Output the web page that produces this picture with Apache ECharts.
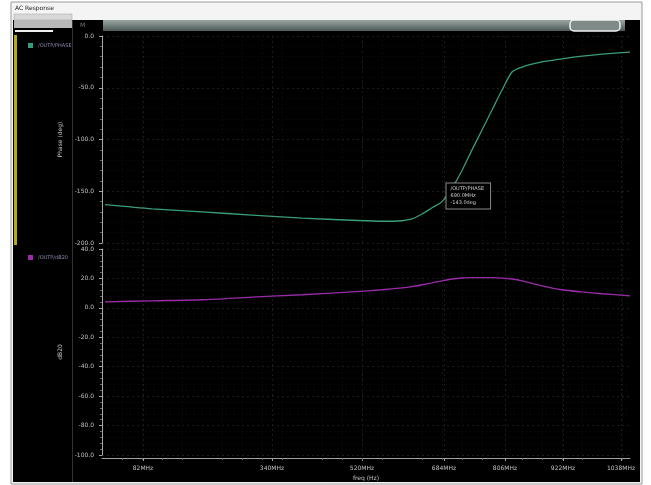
<!DOCTYPE html>
<html>
<head>
<meta charset="utf-8">
<title>AC Response</title>
<script src="https://cdn.jsdelivr.net/npm/echarts@6/dist/echarts.min.js"></script>
<style>
  html, body { margin: 0; padding: 0; background: #ffffff; }
  #chart { width: 651px; height: 485px; }
</style>
</head>
<body>
<div id="chart"></div>
<script>
// Frequency sweep points (MHz)
const freqMHz = [6, 100, 200, 300, 400, 500, 560, 600, 620, 640, 660, 680, 700, 720, 740, 760, 780, 800, 820, 840, 880, 920, 960, 1000, 1056];
// Phase of the output (deg)
const phaseDeg = [-163, -167, -170, -173, -176, -178, -179, -178.5, -176.8, -172, -166, -160, -147, -130, -110, -90.8, -71.5, -52.2, -34.8, -30, -25, -22, -19.5, -17.5, -15.5];
// Magnitude of the output (dB20)
const magDb = [4.1, 4.8, 5.5, 7.3, 8.9, 10.9, 12.3, 13.6, 14.5, 15.7, 17, 18.4, 19.6, 20.3, 20.5, 20.6, 20.5, 20.2, 19.6, 18.4, 15, 12.3, 10.8, 9.6, 8.2];

// Axis ticks
const xTickValues = [82, 340, 520, 684, 806, 922, 1038];
const phaseTicks = { min: -200, max: 0, interval: 50 };
const magTicks = { min: -100, max: 40, interval: 20 };

// Cursor readout on the phase trace
const cursorPoint = { freq: 690, phase: -143 };

const traceNames = ['/OUTP/PHASE', '/OUTP/dB20'];
const traceColors = ['#3a9c7e', '#9a2ca8'];

const chart = echarts.init(document.getElementById('chart'), null, { renderer: 'canvas' });

const labelFont = { color: '#c0c0c0', fontSize: 6, fontFamily: 'DejaVu Sans' };
const gridLine = { show: true, lineStyle: { color: '#1c1c1c', width: 1, type: [2, 3] } };
const minorLine = { show: true, lineStyle: { color: '#111111', width: 1, type: [1, 3] } };

function xAxisFor(gridIndex, showLabels) {
  return {
    type: 'value', gridIndex: gridIndex, min: 0, max: 1056,
    axisLine: { show: showLabels, onZero: false, lineStyle: { color: '#a0a0a0', width: 1 } },
    axisTick: { show: showLabels, customValues: xTickValues, length: 3, lineStyle: { color: '#a0a0a0' } },
    minorTick: { show: showLabels, splitNumber: 5, length: 2, lineStyle: { color: '#6a6a6a' } },
    axisLabel: {
      show: showLabels, customValues: xTickValues, margin: 7,
      formatter: v => v + 'MHz', ...labelFont
    },
    splitLine: gridLine,
    minorSplitLine: minorLine,
    offset: showLabels ? 3 : 0,
    name: showLabels ? 'freq (Hz)' : '',
    nameLocation: 'middle', nameGap: 17,
    nameTextStyle: { ...labelFont }
  };
}

function yAxisFor(gridIndex, ticks, name) {
  return {
    type: 'value', gridIndex: gridIndex,
    min: ticks.min, max: ticks.max, interval: ticks.interval,
    axisLine: { show: true, lineStyle: { color: '#a8a8a8', width: 1 } },
    axisTick: { show: true, length: 3, lineStyle: { color: '#a0a0a0' } },
    minorTick: { show: true, splitNumber: 5, length: 2, lineStyle: { color: '#6a6a6a' } },
    axisLabel: { margin: 8, formatter: v => v.toFixed(1), ...labelFont },
    splitLine: gridLine,
    minorSplitLine: minorLine,
    name: name, nameLocation: 'middle', nameGap: 25, nameRotate: 90,
    nameTextStyle: { ...labelFont }
  };
}

const option = {
  backgroundColor: '#ffffff',
  animation: false,
  graphic: [
    // window frame and title bar
    { type: 'rect', z: -20, shape: { x: 11, y: 2, width: 631, height: 482 }, style: { fill: '#f4f4f4', stroke: '#9a9a9a', lineWidth: 1 } },
    { type: 'text', z: -19, style: { x: 15, y: 5, text: 'AC Response', fill: '#222', fontSize: 6, fontFamily: 'DejaVu Sans' } },
    { type: 'rect', z: -19, shape: { x: 14, y: 14, width: 58, height: 6 }, style: { fill: '#d8d8d8', stroke: '#a0a0a0', lineWidth: 0.5 } },
    // plotting canvas
    { type: 'rect', z: -18, shape: { x: 13, y: 20, width: 627, height: 462 }, style: { fill: '#000000' } },
    { type: 'rect', z: -17, shape: { x: 14, y: 20, width: 58, height: 8 }, style: { fill: '#b8b8b8' } },
    { type: 'rect', z: -17, shape: { x: 15, y: 30, width: 38, height: 2 }, style: { fill: '#f0f0f0' } },
    { type: 'rect', z: -17, shape: { x: 14, y: 35, width: 3, height: 210 }, style: { fill: '#b9a920' } },
    { type: 'line', z: -17, shape: { x1: 72.5, y1: 20, x2: 72.5, y2: 482 }, style: { stroke: '#333333', lineWidth: 1 } },
    { type: 'text', z: -17, style: { x: 80, y: 22, text: 'M', fill: '#777', fontSize: 6, fontFamily: 'DejaVu Sans' } },
    // horizontal scroll bar
    {
      type: 'rect', z: -16, shape: { x: 103, y: 20, width: 522, height: 11 },
      style: {
        fill: new echarts.graphic.LinearGradient(0, 0, 0, 1, [
          { offset: 0, color: '#9aa6a4' }, { offset: 1, color: '#4e5a58' }
        ])
      }
    },
    { type: 'rect', z: -15, shape: { x: 570, y: 20, width: 50, height: 11, r: 4 }, style: { fill: '#7f8b89', stroke: '#f2f2f2', lineWidth: 1.5 } }
  ],
  legend: [
    {
      data: [traceNames[0]], left: 23, top: 38, orient: 'vertical',
      icon: 'rect', itemWidth: 5, itemHeight: 5, itemGap: 4,
      textStyle: { color: '#8a8ab0', fontSize: 5, fontFamily: 'DejaVu Sans' }
    },
    {
      data: [traceNames[1]], left: 23, top: 250, orient: 'vertical',
      icon: 'rect', itemWidth: 5, itemHeight: 5, itemGap: 4,
      textStyle: { color: '#8a8ab0', fontSize: 5, fontFamily: 'DejaVu Sans' }
    }
  ],
  grid: [
    { left: 102, top: 36, width: 528, height: 207, containLabel: false },
    { left: 102, top: 249, width: 528, height: 206, containLabel: false }
  ],
  xAxis: [xAxisFor(0, false), xAxisFor(1, true)],
  yAxis: [
    yAxisFor(0, phaseTicks, 'Phase (deg)'),
    yAxisFor(1, magTicks, 'dB20')
  ],
  series: [
    {
      name: traceNames[0], type: 'line', xAxisIndex: 0, yAxisIndex: 0,
      data: freqMHz.map((f, i) => [f, phaseDeg[i]]),
      showSymbol: false, smooth: 0.25, color: traceColors[0],
      lineStyle: { width: 1.3, color: traceColors[0] },
      markPoint: {
        symbol: 'rect', symbolSize: 1, silent: true,
        itemStyle: { color: '#9a9a9a' },
        label: {
          show: true, position: [0, 0], align: 'left', verticalAlign: 'top',
          formatter: () => traceNames[0] + '\n' + cursorPoint.freq.toFixed(1) + 'MHz\n' + cursorPoint.phase.toFixed(1) + 'deg',
          color: '#d0d0d0', fontSize: 5, lineHeight: 7, fontFamily: 'DejaVu Sans',
          backgroundColor: '#000', borderColor: '#8a8a8a', borderWidth: 1,
          padding: [2, 6, 2, 4]
        },
        data: [{ coord: [cursorPoint.freq, cursorPoint.phase] }]
      }
    },
    {
      name: traceNames[1], type: 'line', xAxisIndex: 1, yAxisIndex: 1,
      data: freqMHz.map((f, i) => [f, magDb[i]]),
      showSymbol: false, smooth: 0.25, color: traceColors[1],
      lineStyle: { width: 1.3, color: traceColors[1] }
    }
  ]
};

chart.setOption(option);
</script>
</body>
</html>
